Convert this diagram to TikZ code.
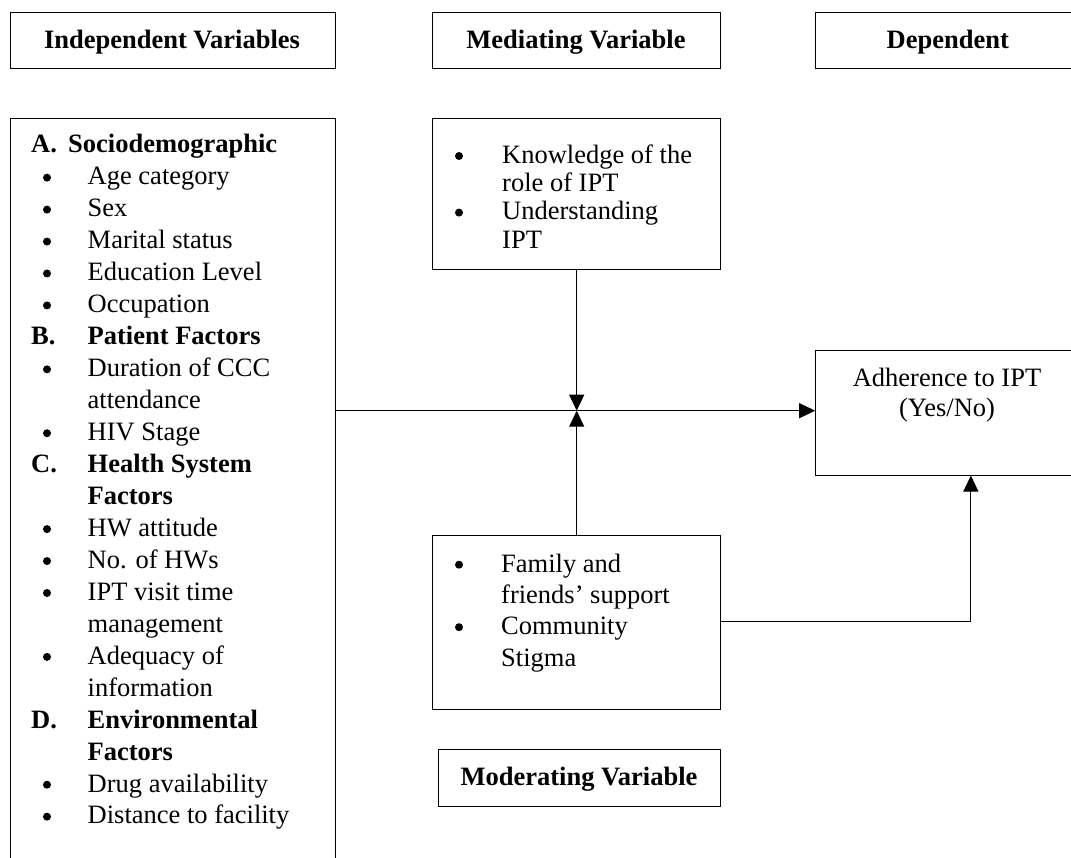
\documentclass[tikz,border=0pt]{standalone}
\usepackage{fontspec}
\setmainfont{Liberation Serif}
\usetikzlibrary{arrows.meta,fit}
\newcommand\fsz{\fontsize{26.5}{32}\selectfont}
\begin{document}
\begin{tikzpicture}[x=1pt,y=-1pt,
  box/.style={draw, line width=1pt, inner sep=0pt},
  txt/.style={anchor=base west, inner sep=0pt, font=\fsz},
  btxt/.style={anchor=base west, inner sep=0pt, font=\fsz\bfseries},
  ctr/.style={anchor=base, inner sep=0pt, font=\fsz},
  hd/.style={anchor=base, inner sep=0pt, font=\fsz\bfseries},
  bul/.style={circle, fill=black, inner sep=0pt, minimum size=8pt, yshift=7.3pt},
  arr/.style={line width=1pt, -{Triangle[length=16pt,width=15pt]}}]
\useasboundingbox (0,0) rectangle (1071,858);

% boxes
\node[box, fit={(10,12.3) (335,68.3)}] (hIndep) {};
\node[box, fit={(432.7,12.3) (720.7,68.3)}] (hMed) {};
\node[box, fit={(815.7,12.3) (1126,68.3)}] (hDep) {};
\node[box, fit={(10.5,118.3) (335,880)}] (indep) {};
\node[box, fit={(432.7,118.3) (720.7,269.3)}] (med) {};
\node[box, fit={(815.7,350.7) (1126,475)}] (adh) {};
\node[box, fit={(432.7,535) (720.7,709.3)}] (fam) {};
\node[box, fit={(438,749) (720.7,806)}] (mod) {};

% headings
\node[hd] (tIndep) at (172,48.3) {Independent Variables};
\node[hd] (tMed) at (576,48.3) {Mediating Variable};
\node[hd] (tDep) at (947.8,48.3) {Dependent};
\node[hd] (tMod) at (579,785) {Moderating Variable};

% independent variables list
\node[btxt] (lA) at (31,153) {A.};
\node[btxt] (l0) at (68,153) {Sociodemographic};
\foreach \i/\t in {1/Age category,2/Sex,3/Marital status,4/Education Level,5/Occupation,
  7/Duration of CCC,9/HIV Stage,12/HW attitude,13/No. of HWs,14/IPT visit time,
  16/Adequacy of,20/Drug availability,21/Distance to facility}{
  \node[bul] (b\i) at (47,{153+31.95*\i}) {};
  \node[txt] (l\i) at (87.5,{153+31.95*\i}) {\t};
}
\foreach \i/\t in {8/attendance,15/management,17/information}{
  \node[txt] (l\i) at (87.5,{153+31.95*\i}) {\t};
}
\foreach \i/\k/\t in {6/B./Patient Factors,10/C./Health System,18/D./Environmental}{
  \node[btxt] (k\i) at (31,{153+31.95*\i}) {\k};
  \node[btxt] (l\i) at (87.5,{153+31.95*\i}) {\t};
}
\foreach \i in {11,19}{
  \node[btxt] (l\i) at (87.5,{153+31.95*\i}) {Factors};
}

% mediating list
\node[bul] (mb1) at (459,163.3) {};
\node[txt] (m1) at (502,163.3) {Knowledge of the};
\node[txt] (m2) at (502,191.6) {role of IPT};
\node[bul] (mb3) at (459,219.9) {};
\node[txt] (m3) at (502,219.9) {Understanding};
\node[txt] (m4) at (502,248.2) {IPT};

% moderating list
\node[bul] (fb1) at (459,572) {};
\node[txt] (f1) at (501,572) {Family and};
\node[txt] (f2) at (501,603) {friends’ support};
\node[bul] (fb3) at (459,634.5) {};
\node[txt] (f3) at (501,634.5) {Community};
\node[txt] (f4) at (501,666) {Stigma};

% dependent
\node[ctr] (a1) at (947,386.7) {Adherence to IPT};
\node[ctr] (a2) at (947,417) {(Yes/No)};

% connectors
\coordinate (j) at (576.7,410.7);
\coordinate (fy) at (0,621.7);
\draw[arr] (med.south) -- (j);
\draw[arr] (fam.north) -- (j);
\draw[arr] (indep.east |- j) -- (adh.west |- j);
\draw[arr] (fam.east |- fy) -| (adh.south);
\end{tikzpicture}
\end{document}
